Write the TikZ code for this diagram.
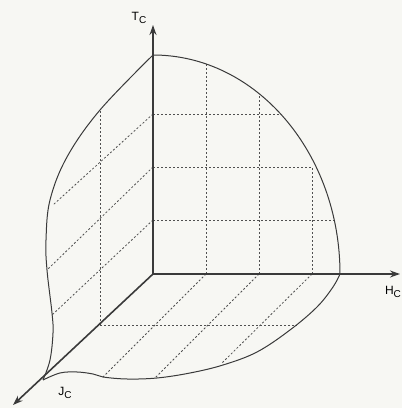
\documentclass[tikz,border=0pt]{standalone}
\usepackage{fontspec}
\newfontfamily\labfont{Liberation Sans}
\usetikzlibrary{arrows.meta}
\definecolor{bg}{HTML}{F7F7F3}
\definecolor{ink}{HTML}{3A3A3A}
\definecolor{gridc}{HTML}{505050}
\tikzset{
  axis/.style={ink, line width=1.6pt, -{Stealth[length=10pt,width=7pt]}},
  bound/.style={ink, line width=1pt},
  gridline/.style={gridc, line width=0.8pt, dash pattern=on 2pt off 2pt},
  lab/.style={font=\labfont\fontsize{12}{12}\selectfont, inner sep=0pt},
}
\newcommand{\subc}{\raisebox{-0.35ex}{\fontsize{10}{10}\selectfont C}}
\begin{document}
\begin{tikzpicture}[x=1pt,y=1pt]
\fill[bg] (0,0) rectangle (402,408);
\useasboundingbox (0,0) rectangle (402,408);
% key points
\coordinate (O) at (153,134);
\coordinate (Ttip) at (153,383);
\coordinate (Htip) at (400,134);
\coordinate (Jtip) at (13,3);
\coordinate (Tm) at (153,353);
\coordinate (Hm) at (340,134);
\coordinate (Jm) at (43,28);
% grid in T-H plane
\draw[gridline] (206,134) -- (206,344);
\draw[gridline] (259,134) -- (259,314);
\draw[gridline] (312,134) -- (312,241);
\draw[gridline] (153,294) -- (280,294);
\draw[gridline] (153,241) -- (312,241);
\draw[gridline] (153,188) -- (334,188);
% grid in T-J plane
\draw[gridline] (100,83) -- (100,297);
\draw[gridline] (153,294) -- (53,203);
\draw[gridline] (153,241) -- (47,138);
\draw[gridline] (153,188) -- (52,93);
% grid in H-J plane
\draw[gridline] (100,83) -- (297,83);
\draw[gridline] (206,134) -- (103,31);
\draw[gridline] (259,134) -- (155,30);
\draw[gridline] (312,134) -- (222,45);
% boundary curves
\draw[bound] (Tm) arc[start angle=90, end angle=0, x radius=187, y radius=219];
\draw[bound] plot[smooth, tension=0.6] coordinates {(153,353) (100,298) (67,251) (50,208) (46,168) (47,138) (52,95) (53,75) (50,48) (43,28)};
\draw[bound] plot[smooth, tension=0.6] coordinates {(43,28) (60,35) (77,36) (93,34) (103,31) (127,29) (157,30) (190,35) (223,43) (257,56) (290,78) (317,101) (333,121) (340,134)};
% axes
\draw[axis] (O) -- (Ttip);
\draw[axis] (O) -- (Htip);
\draw[axis] (O) -- (Jtip);
% labels
\node[lab] (tl) at (139,390) {T\subc};
\node[lab] (hl) at (393,116) {H\subc};
\node[lab] (jl) at (65,15) {J\subc};
\end{tikzpicture}
\end{document}
